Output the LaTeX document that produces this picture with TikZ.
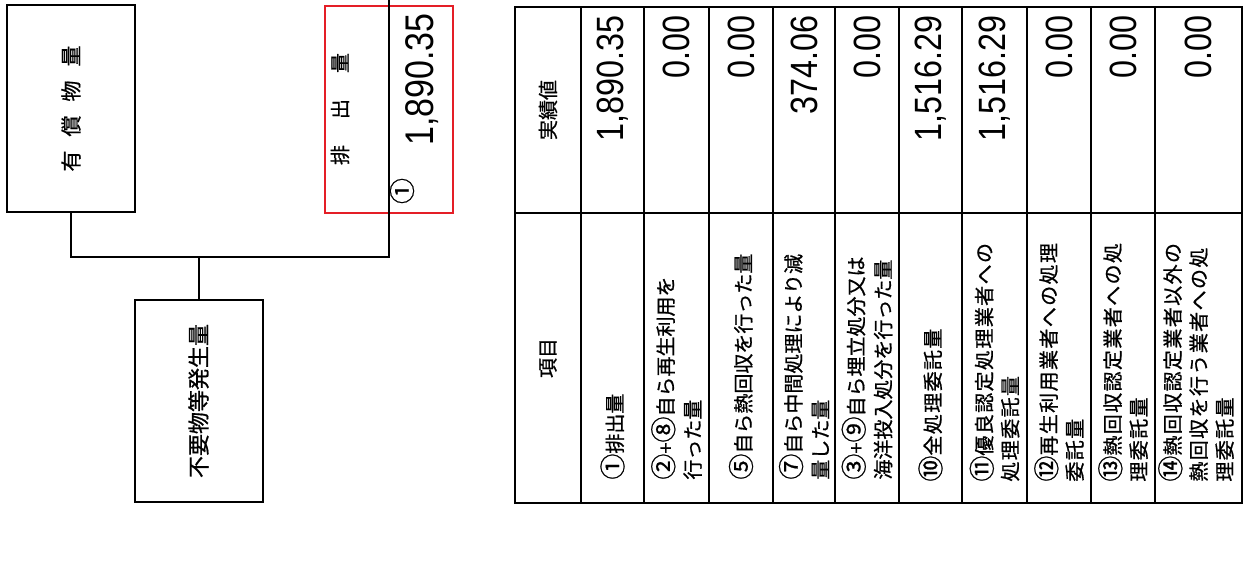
\documentclass[tikz,border=0pt]{standalone}
\usepackage{fontspec}
\setmainfont{Noto Sans CJK JP}[FakeBold=0.8]
\newfontfamily\numfont[FakeStretch=0.85]{Liberation Sans}
\definecolor{markred}{RGB}{228,30,38}
\newcommand\cn[1]{\scalebox{1.3}{#1}}
\tikzset{
	box/.style={draw, line width=1pt, minimum width=64pt, minimum height=103.5pt, inner sep=0pt},
	item/.style={rotate=90, anchor=west, align=left, inner sep=0pt, font=\fontsize{10}{13.5}\selectfont},
	wide/.style={font=\fontsize{10}{13}\selectfont\addfontfeature{LetterSpace=7}},
	val/.style={rotate=90, anchor=east, inner sep=0pt, font=\numfont\fontsize{19}{19}\selectfont},
	head/.style={rotate=90, inner sep=0pt, font=\fontsize{10}{12}\selectfont},
}
\begin{document}
\begin{tikzpicture}[x=0.5pt, y=-0.5pt]
		\useasboundingbox (0,0) rectangle (1254,579);
		%boxes
		\node (yushou) at (71,108.5) [box]{\rotatebox{90}{\fontsize{10.5}{10.5}\selectfont 有\hspace{7pt}償\hspace{7pt}物\hspace{7pt}量}};
		\node (fuyou) at (198.5,401) [box, minimum height=101pt]{\rotatebox{90}{\fontsize{11}{11}\selectfont 不要物等発生量}};
		\node (haishutsu) at (389,109.5) [box, draw=markred]{};
		%connectors
		\coordinate (top) at (389,0);
		\coordinate (join) at (198.5,257);
		\draw [line width=1pt] (top) |- (join) -| (yushou.south);
		\draw [line width=1pt] (join) -- (fuyou.north);
		%red box text
		\node (haiLbl) at (340,109) {\rotatebox{90}{\fontsize{10}{10}\selectfont 排\hspace{13pt}出\hspace{13pt}量}};
		\node (haiNo) at (402,191) {\rotatebox{90}{\fontsize{10}{10}\selectfont\cn{①}}};
		\node (haiVal) at (422,13) [val, font=\numfont\fontsize{20}{20}\selectfont]{1,890.35};
		%table
		\draw [line width=1pt] (515,7) rectangle (1242,503);
		\draw [line width=1pt] (515,213) -- (1242,213);
		\foreach \x in {581,644,709,773,835,899,962,1027,1091,1155}
			\draw [line width=1pt] (\x,7) -- (\x,503);
		%header
		\node (hdItem) at (548,358) [head]{項目};
		\node (hdVal) at (548,110) [head]{実績値};
		%①
		\node (it1) at (612.5,480) [item]{\cn{①}排出量};
		\node (v1) at (612.5,15) [val]{1,890.35};
		%②+⑧
		\node (it2) at (676.5,480) [item]{\cn{②}+\cn{⑧}自ら再生利用を\\行った量};
		\node (v2) at (676.5,15) [val]{0.00};
		%⑤
		\node (it3) at (741,480) [item]{\cn{⑤}自ら熱回収を行った量};
		\node (v3) at (741,15) [val]{0.00};
		%⑦
		\node (it4) at (804,480) [item]{\cn{⑦}自ら中間処理により減\\量した量};
		\node (v4) at (804,15) [val]{374.06};
		%③+⑨
		\node (it5) at (867,480) [item]{\cn{③}+\cn{⑨}自ら埋立処分又は\\海洋投入処分を行った量};
		\node (v5) at (867,15) [val]{0.00};
		%⑩
		\node (it6) at (930.5,482) [item, wide]{\cn{⑩}全処理委託量};
		\node (v6) at (930.5,15) [val]{1,516.29};
		%⑪
		\node (it7) at (994.5,482) [item, wide]{\cn{⑪}優良認定処理業者への\\処理委託量};
		\node (v7) at (994.5,15) [val]{1,516.29};
		%⑫
		\node (it8) at (1059,482) [item, wide]{\cn{⑫}再生利用業者への処理\\委託量};
		\node (v8) at (1059,15) [val]{0.00};
		%⑬
		\node (it9) at (1123,482) [item, wide]{\cn{⑬}熱回収認定業者への処\\理委託量};
		\node (v9) at (1123,15) [val]{0.00};
		%⑭
		\node (it10) at (1196,482) [item, wide]{\cn{⑭}熱回収認定業者以外の\\熱回収を行う業者への処\\理委託量};
		\node (v10) at (1198.5,15) [val]{0.00};
	\end{tikzpicture}
\end{document}
